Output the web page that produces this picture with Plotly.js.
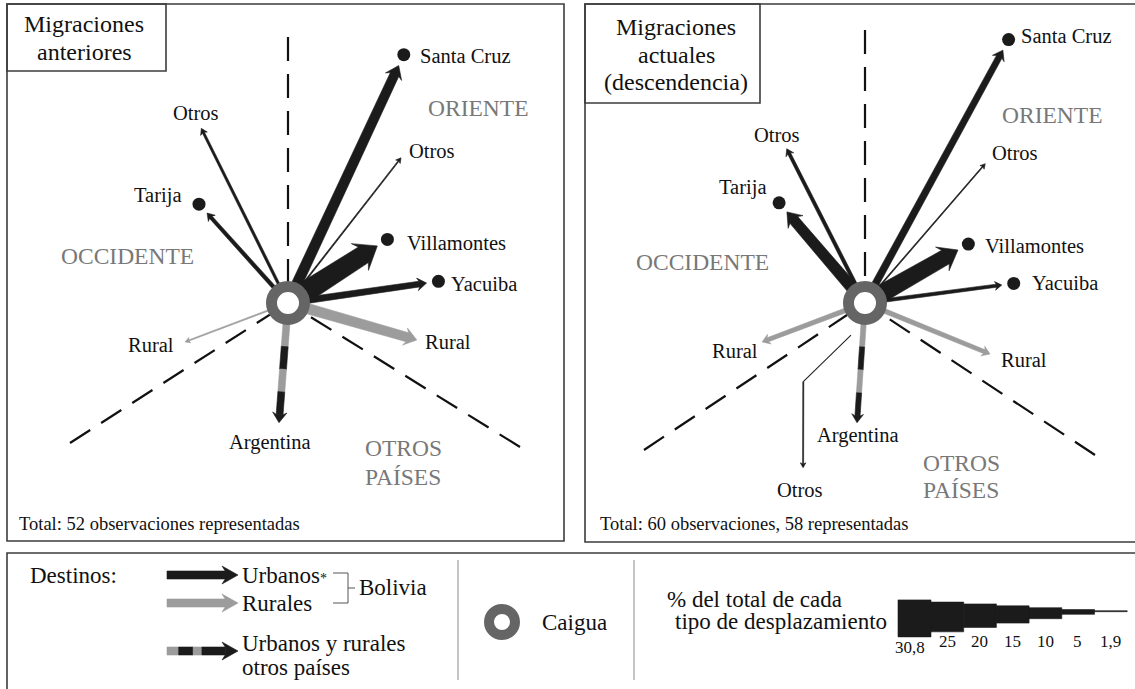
<!DOCTYPE html>
<html><head><meta charset="utf-8">
<script src="https://cdn.plot.ly/plotly-3.0.1.min.js"></script>
<style>html,body{margin:0;padding:0;background:#fff}#chart{width:1135px;height:689px}</style>
</head><body><div id="chart"></div>
<script>
// ================= DATA =================
const destinosAnteriores = ["Santa Cruz","Otros","Otros","Tarija","Villamontes","Yacuiba","Rural","Rural","Argentina"];
const tiposAnteriores    = ["urbano","urbano","urbano","urbano","urbano","urbano","rural","rural","exterior"];
const pctAnteriores      = [15.4, 3.8, 1.9, 5.8, 30.8, 9.6, 15.4, 1.9, 11.5];

const destinosActuales = ["Santa Cruz","Otros","Otros","Tarija","Villamontes","Yacuiba","Rural","Rural","Argentina","Otros"];
const tiposActuales    = ["urbano","urbano","urbano","urbano","urbano","urbano","rural","rural","exterior","exterior"];
const pctActuales      = [10.3, 5.2, 1.7, 17.2, 25.9, 5.2, 6.9, 6.9, 8.6, 1.7];

const escalaValores   = [30.8, 25, 20, 15, 10, 5, 1.9];
const escalaEtiquetas = ["30,8","25","20","15","10","5","1,9"];

const titulos = [["Migraciones","anteriores"],["Migraciones","actuales","(descendencia)"]];
const totales = ["Total: 52 observaciones representadas","Total: 60 observaciones, 58 representadas"];
const regiones = ["ORIENTE","OCCIDENTE","OTROS","PAÍSES"];

// ================= STYLE / GEOMETRY =================
const BLACK='#1b1b1b', GRAY='#9c9c9c', RING='#656565', REGION='#787878', FRAME='#3c3c3c';
const FONT='Liberation Serif';
const widthOf = p => 0.6*p;           // arrow width (px) from percentage
const barOf = p => Math.max(1, 1.25*p - 1.5); // legend scale height

// direction (deg, math convention) and length (px) of each arrow, dot flag, label offset from tip
const geoAnteriores = [
 {a:65,   r:262, dot:true,  lx:19, ly:-10, anc:'left'},
 {a:116.4,r:195, dot:false, lx:-5, ly:-15, anc:'center'},
 {a:52.1, r:184, dot:false, lx:6,  ly:-7,  anc:'left'},
 {a:132,  r:121, dot:true,  lx:-23,ly:-18, anc:'right'},
 {a:32.6, r:106, dot:true,  lx:28, ly:-3,  anc:'left'},
 {a:8.2,  r:140, dot:true,  lx:22, ly:1,   anc:'left'},
 {a:-16,  r:134, dot:false, lx:6,  ly:2,   anc:'left'},
 {a:200.7,r:110, dot:false, lx:-9, ly:3,   anc:'right'},
 {a:265.7,r:120, dot:false, lx:-9, ly:20,  anc:'center'}
];
const geoActuales = [
 {a:61.4, r:288, dot:true,  lx:16, ly:-14, anc:'left'},
 {a:116.9,r:173, dot:false, lx:-10,ly:-14, anc:'center'},
 {a:49.2, r:184, dot:false, lx:5,  ly:-11, anc:'left'},
 {a:130.6,r:120, dot:true,  lx:-18,ly:-24, anc:'right'},
 {a:29.7, r:107, dot:true,  lx:25, ly:-4,  anc:'left'},
 {a:7.5,  r:138, dot:true,  lx:28, ly:-2,  anc:'left'},
 {a:200.7,r:110, dot:false, lx:-2, ly:9,   anc:'right'},
 {a:-22.2,r:135, dot:false, lx:9,  ly:6,   anc:'left'},
 {a:266.2,r:120, dot:false, lx:1,  ly:13,  anc:'center'},
 {path:[[246.4,35],[231.9,100],[249.4,176]], dot:false, lx:-3, ly:22, anc:'center'}
];

const paneles = [
 {c:[288,303], dest:destinosAnteriores, tipos:tiposAnteriores, pct:pctAnteriores, geo:geoAnteriores,
  vtop:266, dl:[-218,140], dr:[232,144],
  reg:[[190,-195],[-161,-47],[115,145],[115,174]],
  titulo:titulos[0], tx:84, ty:[24,52], total:totales[0], totx:17},
 {c:[865,303], dest:destinosActuales, tipos:tiposActuales, pct:pctActuales, geo:geoActuales,
  vtop:273, dl:[-221,147], dr:[230,152],
  reg:[[187,-188],[-163,-41],[96,160],[96,187]],
  titulo:titulos[1], tx:676, ty:[27,55,82], total:totales[1], totx:598}
];

const traces=[], ann=[], shapes=[];
const pol = (c,a,r)=>[c[0]+r*Math.cos(a*Math.PI/180), c[1]-r*Math.sin(a*Math.PI/180)];

function poly(pts,color){
  const p=pts.concat([pts[0]]);
  traces.push({type:'scatter',mode:'lines',x:p.map(q=>q[0]),y:p.map(q=>q[1]),
    fill:'toself',fillcolor:color,line:{color:color,width:0.6},hoverinfo:'skip'});
}
function headGeom(tail,tip,w,Hh,L){
  const dx=tip[0]-tail[0], dy=tip[1]-tail[1], len=Math.hypot(dx,dy);
  const ux=dx/len, uy=dy/len, px=-uy, py=ux;
  Hh = Hh ?? (2+0.75*w); L = L ?? (4+0.9*w);
  const base=[tip[0]-L*ux, tip[1]-L*uy], neck=[tip[0]-0.8*L*ux, tip[1]-0.8*L*uy];
  return {ux,uy,px,py,base,neck,Hh,L};
}
function arrow(tail,tip,w,color,Hh,L,taper){
  const g=headGeom(tail,tip,w,Hh,L); const tw=w*(taper??1.15)/2, nw=w/2;
  poly([[tail[0]+tw*g.px,tail[1]+tw*g.py],[g.neck[0]+nw*g.px,g.neck[1]+nw*g.py],
        [g.base[0]+g.Hh*g.px,g.base[1]+g.Hh*g.py],tip,
        [g.base[0]-g.Hh*g.px,g.base[1]-g.Hh*g.py],[g.neck[0]-nw*g.px,g.neck[1]-nw*g.py],
        [tail[0]-tw*g.px,tail[1]-tw*g.py]], color);
}
function stripedArrow(tail,tip,w,Hh,L,segs){
  const g=headGeom(tail,tip,w,Hh,L); const nw=w/2;
  const n=segs.length;
  for(let i=0;i<n;i++){
    const s0=[tail[0]+(g.neck[0]-tail[0])*segs[i][0], tail[1]+(g.neck[1]-tail[1])*segs[i][0]];
    const s1=[tail[0]+(g.neck[0]-tail[0])*segs[i][1], tail[1]+(g.neck[1]-tail[1])*segs[i][1]];
    poly([[s0[0]+nw*g.px,s0[1]+nw*g.py],[s1[0]+nw*g.px,s1[1]+nw*g.py],
          [s1[0]-nw*g.px,s1[1]-nw*g.py],[s0[0]-nw*g.px,s0[1]-nw*g.py]], segs[i][2]);
  }
  poly([[g.neck[0]+nw*g.px,g.neck[1]+nw*g.py],[g.base[0]+g.Hh*g.px,g.base[1]+g.Hh*g.py],tip,
        [g.base[0]-g.Hh*g.px,g.base[1]-g.Hh*g.py],[g.neck[0]-nw*g.px,g.neck[1]-nw*g.py]], BLACK);
}
function txt(x,y,text,size,anchor,color,yanchor){
  ann.push({x:x,y:y,xref:'x',yref:'y',text:text,showarrow:false,xanchor:anchor||'center',
    yanchor:yanchor||'middle',font:{family:FONT,size:size,color:color||'#111'}});
}

// dashed sector lines
paneles.forEach(P=>{
  const c=P.c, dash={color:'#111',width:2.2,dash:'24px,13px'};
  [[c[0],c[1]-P.vtop],[c[0]+P.dl[0],c[1]+P.dl[1]],[c[0]+P.dr[0],c[1]+P.dr[1]]].forEach(e=>{
    traces.push({type:'scatter',mode:'lines',x:[e[0],c[0]],y:[e[1],c[1]],line:dash,hoverinfo:'skip'});
  });
});

// arrows
paneles.forEach(P=>{
  const c=P.c, dots={x:[],y:[]};
  P.dest.forEach((name,i)=>{
    const g=P.geo[i], w=widthOf(P.pct[i]), tipo=P.tipos[i];
    let tip;
    if(g.path){
      const pts=g.path.map(q=>pol(c,q[0],q[1]));
      tip=pts[pts.length-1];
      traces.push({type:'scatter',mode:'lines',x:pts.slice(0,-1).map(q=>q[0]),y:pts.slice(0,-1).map(q=>q[1]),
        line:{color:BLACK,width:w},hoverinfo:'skip'});
      arrow(pts[pts.length-2],tip,w,BLACK,null,null,1);
    } else {
      tip=pol(c,g.a,g.r);
      if(tipo==='exterior' && w>2){
        const t0=pol(c,g.a,21);
        stripedArrow(t0,tip,w,null,null,[[0,0.25,GRAY],[0.25,0.5,BLACK],[0.5,0.75,GRAY],[0.75,1.0,BLACK]]);
      } else {
        arrow(c,tip,w,tipo==='rural'?GRAY:BLACK);
      }
      if(g.dot){const d=pol(tip,g.a,12); dots.x.push(d[0]); dots.y.push(d[1]);}
    }
    txt(tip[0]+g.lx, tip[1]+g.ly, name, 20.5, g.anc);
  });
  traces.push({type:'scatter',mode:'markers',x:dots.x,y:dots.y,marker:{size:13,color:BLACK},hoverinfo:'skip'});
  traces.push({type:'scatter',mode:'markers',x:[c[0]],y:[c[1]],marker:{size:33,color:'#fff',line:{width:11,color:RING}},hoverinfo:'skip'});
  // region labels
  P.reg.forEach((o,k)=>txt(c[0]+o[0],c[1]+o[1],regiones[k],23.5,'center',REGION));
  // titles
  P.titulo.forEach((t,k)=>txt(P.tx,P.ty[k],t,24,'center'));
  txt(P.totx,524,P.total,18.5,'left');
});

// frames
const ln={color:FRAME,width:1.6};
shapes.push({type:'rect',xref:'x',yref:'y',x0:7,y0:4,x1:564,y1:541,line:ln});
shapes.push({type:'rect',xref:'x',yref:'y',x0:7,y0:4,x1:166,y1:71,line:ln});
shapes.push({type:'path',xref:'x',yref:'y',path:'M1136,4 L585,4 L585,542 L1136,542',line:ln});
shapes.push({type:'rect',xref:'x',yref:'y',x0:585,y0:4,x1:760,y1:103,line:ln});
shapes.push({type:'path',xref:'x',yref:'y',path:'M1136,553 L7,553 L7,692',line:ln});

// ================= LEGEND =================
txt(28,575,'Destinos:',23,'left');
arrow([167,575],[238,575],8,BLACK,9,16,1);
txt(240,575,'Urbanos<span style="font-size:14px">*</span>',23,'left');
arrow([167,603],[238,603],8,GRAY,9,16,1);
txt(240,603,'Rurales',23,'left');
stripedArrow([167,651],[238,651],8,9,16,[[0,0.2,GRAY],[0.2,0.45,BLACK],[0.45,0.6,GRAY],[0.6,1,BLACK]]);
txt(240,643,'Urbanos y rurales',23,'left');
txt(240,667,'otros países',23,'left');
const thin={color:'#555',width:1};
shapes.push({type:'path',xref:'x',yref:'y',path:'M333,573 L348,573 L348,603 L333,603 M348,588 L355,588',line:thin});
txt(357,587,'Bolivia',23,'left');
shapes.push({type:'line',xref:'x',yref:'y',x0:458,y0:560,x1:458,y1:680,line:{color:'#8a8a8a',width:1}});
shapes.push({type:'line',xref:'x',yref:'y',x0:634,y0:560,x1:634,y1:680,line:{color:'#8a8a8a',width:1}});
traces.push({type:'scatter',mode:'markers',x:[502],y:[622],marker:{size:26,color:'#fff',line:{width:10,color:RING}},hoverinfo:'skip'});
txt(540,622,'Caigua',23,'left');
txt(665,599,'% del total de cada',23,'left');
txt(673,621,'tipo de desplazamiento',23,'left');
const bx0=898, bstep=32.7;
escalaValores.forEach((v,i)=>{
  const h=barOf(v), x0=bx0+i*bstep, x1=x0+bstep+0.3, t=611-0.3*h, b=611+0.7*h;
  poly([[x0,t],[x1,t],[x1,b],[x0,b]],BLACK);
  txt(x0+bstep/2+(i===0?-4:0), i===0?647:641, escalaEtiquetas[i], 17,'center');
});

Plotly.newPlot('chart',traces,{
  width:1135,height:689,margin:{l:0,r:0,t:0,b:0},showlegend:false,
  paper_bgcolor:'#fff',plot_bgcolor:'#fff',
  xaxis:{range:[0,1135],visible:false,fixedrange:true},
  yaxis:{range:[689,0],visible:false,fixedrange:true},
  annotations:ann,shapes:shapes
},{staticPlot:true,displayModeBar:false});
</script></body></html>
